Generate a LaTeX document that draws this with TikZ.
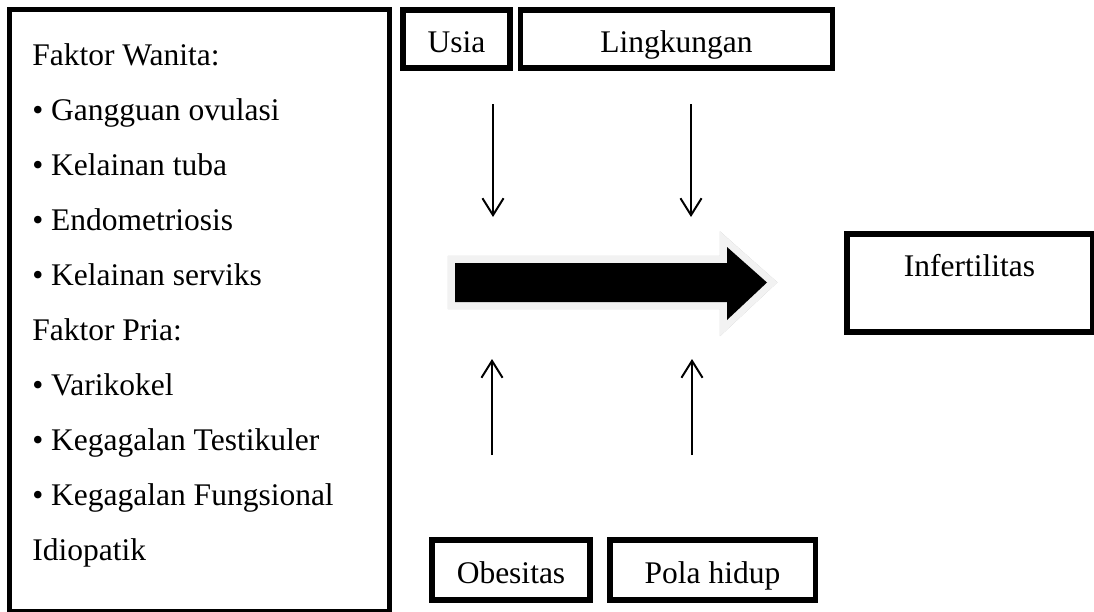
\documentclass[tikz,border=0pt]{standalone}
\usepackage{fontspec}
\setmainfont{Liberation Serif}
\usetikzlibrary{arrows.meta}

\begin{document}
\begin{tikzpicture}[
    x=0.025cm, y=-0.025cm,
    font=\fontsize{22.4}{39}\selectfont,
    box/.style={
        draw,
        line width=3.6pt,
        inner sep=0pt,
        text height=20pt,
        text depth=1.5pt
    },
    flow/.style={
        line width=1.4pt,
        -{Straight Barb[length=12pt,width=15pt,line width=1.4pt]}
    }
]

\useasboundingbox (0,0) rectangle (1094,612);

% Left column
\node[box,minimum width=9.475cm,minimum height=15.025cm] (faktor) at (199.5,310.5) {};

\foreach \txt [count=\i] in {Faktor Wanita:,
    • Gangguan ovulasi,
    • Kelainan tuba,
    • Endometriosis,
    • Kelainan serviks,
    Faktor Pria:,
    • Varikokel,
    • Kegagalan Testikuler,
    • Kegagalan Fungsional,
    Idiopatik}
  \node[anchor=base west,inner sep=0pt] (item\i) at (32,10+55*\i) {\txt};

% Top row
\node[box,minimum width=2.675cm,minimum height=1.45cm] (usia) at (456.5,39) {Usia};
\node[box,minimum width=7.775cm,minimum height=1.45cm] (lingkungan) at (676.5,39) {Lingkungan};

% Bottom row
\node[box,minimum width=3.95cm,minimum height=1.5cm] (obesitas) at (511,570) {Obesitas};
\node[box,minimum width=5.125cm,minimum height=1.5cm] (polahidup) at (712.5,570) {Pola hidup};

% Right
\node[box,minimum width=6.125cm,minimum height=2.45cm,text height=15pt,text depth=24pt] (infertilitas) at (969.5,283) {Infertilitas};

% Big arrow
\coordinate (a1) at (455,263);
\coordinate (a2) at (727,263);
\coordinate (a3) at (727,247);
\coordinate (a4) at (767,282.5);
\coordinate (a5) at (727,320);
\coordinate (a6) at (727,302);
\coordinate (a7) at (455,302);
\filldraw[gray!50,line width=10pt,line join=miter,shift={(3,4)}]
    (a1) -- (a2) -- (a3) -- (a4) -- (a5) -- (a6) -- (a7) -- cycle;
\filldraw[gray!10,line width=10pt,line join=miter]
    (a1) -- (a2) -- (a3) -- (a4) -- (a5) -- (a6) -- (a7) -- cycle;
\fill[black] (a1) -- (a2) -- (a3) -- (a4) -- (a5) -- (a6) -- (a7) -- cycle;

% Small arrows
\coordinate (d1) at (493,104);
\coordinate (d2) at (493,217);
\coordinate (d3) at (691,104);
\coordinate (d4) at (691,217);
\coordinate (u1) at (492,455);
\coordinate (u2) at (492,359);
\coordinate (u3) at (692,455);
\coordinate (u4) at (692,359);

\draw[flow] (d1) -- (d2);
\draw[flow] (d3) -- (d4);
\draw[flow] (u1) -- (u2);
\draw[flow] (u3) -- (u4);

\end{tikzpicture}
\end{document}
